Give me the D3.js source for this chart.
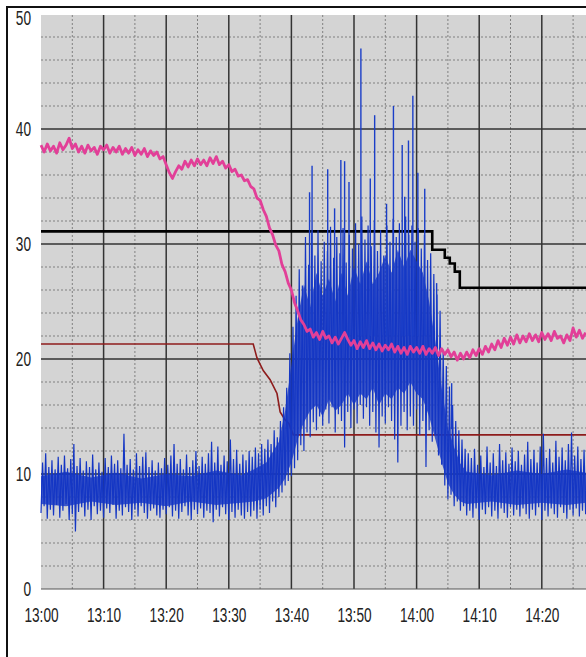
<html>
<head>
<script src="https://d3js.org/d3.v7.min.js"></script>
<style>
  body { margin: 0; background: #fff; }
  svg { display: block; }
</style>
</head>
<body>
<svg id="chart" width="586" height="657"></svg>
<script>
// values; sample step is 30 s starting 13:00
const sampleStep = 0.5; // minutes
const yTicks = [0, 10, 20, 30, 40, 50];

const blueHi = [
  11.0, 11.8, 10.6, 11.2, 10.4, 11.5, 10.8, 11.6, 10.5, 11.3,
  12.6, 10.7, 11.4, 10.3, 11.1, 10.6, 11.7, 10.4, 11.0, 10.2,
  11.4, 10.6, 11.6, 10.9, 11.2, 10.5, 13.5, 10.8, 11.3, 10.4,
  11.8, 10.7, 11.5, 11.9, 10.6, 11.2, 10.3, 11.0, 10.5, 11.4,
  10.8, 11.6, 12.6, 10.9, 11.3, 10.4, 11.7, 10.6, 11.2, 12.0,
  10.7, 11.5, 10.9, 11.8, 12.8, 11.0, 12.4, 10.8, 11.6, 11.1,
  13.0, 11.3, 12.1, 10.9, 11.7, 11.2, 12.0,
  11.5, 12.3, 11.8, 12.6, 12.2, 13.0, 12.6, 13.8, 13.2, 14.6, 15.8, 17.5, 20.5, 22.8,
  25.5, 27.8, 26.4, 30.6, 28.2, 31.0, 29.0, 31.2, 28.5, 30.2,
  29.4, 31.5, 28.8, 30.6, 29.2, 31.4, 28.4, 30.8, 29.6, 31.8,
  30.0, 32.4, 30.4, 31.6, 29.8, 32.0, 29.4, 31.2, 29.0, 31.6,
  30.2, 32.2, 30.6, 31.8, 30.0, 32.4, 30.8, 31.6, 30.2, 31.4,
  29.6, 30.8, 28.6, 29.2,
  27.4, 25.6, 24.2, 20.8, 19.4, 17.6, 16.0, 14.6, 13.8, 13.0, 12.2, 11.8,
  11.4, 12.2, 10.8, 11.6, 10.6, 12.4, 11.0, 11.8, 10.7, 12.6,
  11.2, 11.9, 10.9, 12.3, 11.1, 12.0, 10.8, 11.7, 12.8, 11.3,
  12.1, 11.0, 12.4, 13.5, 11.4, 12.2, 11.0, 12.9, 11.5, 12.3,
  11.2, 12.6, 13.6, 11.6, 12.4, 11.3, 12.1, 11.7
];

const blueLo = [
  6.6, 7.2, 6.1, 6.9, 6.4, 7.3, 6.2, 6.8, 7.4, 6.0,
  6.5, 5.0, 6.7, 7.1, 6.3, 6.9, 6.0, 7.2, 6.5, 6.8,
  6.2, 7.0, 6.6, 7.3, 6.1, 6.8, 6.4, 7.1, 6.7, 6.0,
  6.9, 6.3, 7.2, 6.6, 6.1, 6.8, 7.0, 6.4, 6.2, 6.9,
  6.5, 7.1, 6.3, 6.8, 6.1, 6.7, 7.2, 6.4, 6.0, 6.9,
  6.5, 7.0, 6.2, 6.8, 6.6, 5.8, 6.9, 6.3, 7.1, 6.5,
  6.0, 6.7, 6.2, 6.9, 6.4, 6.1, 6.7,
  6.3, 6.8, 6.1, 6.9, 6.4, 7.2, 6.6, 7.6, 7.1, 8.0, 8.4, 9.0, 9.4, 9.8,
  10.5, 11.2, 12.5, 12.0, 13.6, 13.2, 14.5, 13.8, 15.0, 14.2,
  15.6, 14.4, 15.8, 13.6, 15.2, 14.6, 12.3, 15.4, 14.0, 15.6,
  14.4, 16.0, 14.8, 15.8, 14.2, 15.4, 13.6, 12.3, 15.0, 14.4,
  15.8, 14.6, 13.0, 11.0, 14.2, 15.4, 13.8, 15.0, 14.2, 15.6,
  13.4, 14.6, 10.6, 13.8,
  12.8, 13.4, 11.6, 10.8, 9.0, 7.8, 8.2, 7.2, 7.6, 6.8, 7.2, 6.4,
  6.8, 6.2, 7.0, 6.0, 6.9, 6.5, 7.1, 6.3, 6.8, 6.1,
  7.0, 6.6, 6.2, 7.1, 6.4, 6.9, 6.3, 7.0, 6.5, 6.1,
  6.9, 6.4, 7.1, 6.0, 6.8, 6.3, 7.0, 6.5, 6.2, 7.1,
  6.6, 6.1, 6.9, 6.4, 7.0, 6.3, 6.8, 6.5
];

// densely inked core of the blue trace: [minutes, low, high]
const blueCore = [
  [0, 7.4, 9.8], [4, 7.2, 10.2], [8, 7.6, 9.7], [12, 7.3, 10.1], [16, 7.5, 9.6],
  [20, 7.2, 10.0], [24, 7.6, 9.8], [28, 7.3, 10.3], [32, 7.5, 9.9], [34, 7.6, 10.4],
  [36, 7.9, 11.0], [38, 8.8, 12.8], [39, 9.6, 15.5], [40, 11.0, 19.5],
  [41, 13.0, 23.5], [42, 14.5, 26.5], [43, 15.5, 24.5], [44, 16.0, 27.5],
  [45, 15.0, 25.5], [46, 16.5, 27.0], [47, 15.5, 25.0], [48, 16.0, 27.5],
  [49, 17.0, 25.5], [50, 16.0, 28.0], [51, 17.0, 26.5], [52, 16.5, 28.5],
  [53, 17.5, 26.5], [54, 16.0, 27.5], [55, 17.0, 29.0], [56, 16.5, 27.5],
  [57, 17.5, 29.5], [58, 17.0, 28.0], [59, 18.0, 29.5], [60, 17.0, 28.5],
  [61, 16.5, 27.5], [62, 15.0, 25.0], [63, 13.0, 21.5], [64, 11.0, 17.5],
  [65, 9.2, 14.0], [66, 8.2, 12.3], [67, 7.6, 10.9], [68, 7.4, 10.2],
  [72, 7.6, 9.9], [76, 7.3, 10.3], [80, 7.5, 10.0], [84, 7.3, 10.4], [87.1, 7.5, 10.1]
];

// tall single spikes of the blue trace: [minutes after 13:00, value]
const blueSpikes = [
  [42.9, 34.5], [43.3, 36.8], [45.8, 36.5], [46.9, 33.1], [47.9, 37.3],
  [48.5, 37.2], [49.2, 35.4], [51.1, 47.0], [52.6, 35.7], [53.3, 41.2],
  [55.2, 33.5], [56.3, 42.0], [57.7, 38.6], [58.1, 34.1], [58.7, 39.0],
  [59.4, 42.9], [60.2, 36.2], [61.3, 34.8], [63.2, 26.6], [65.6, 17.9]
];

const pink = [
  38.6, 38.0, 38.7, 38.1, 38.5, 37.9, 38.8, 38.2, 38.6, 39.2,
  38.3, 38.7, 38.0, 38.5, 37.9, 38.6, 38.1, 38.4, 37.8, 38.5,
  38.2, 38.6, 37.9, 38.4, 38.0, 38.5, 37.8, 38.3, 37.9, 38.4,
  37.7, 38.2, 37.8, 38.3, 37.6, 38.1, 37.7, 38.0, 37.4, 37.6,
  36.9, 36.2, 35.7, 36.3, 36.8, 36.5, 37.2, 36.7, 37.3, 36.8,
  37.4, 36.9, 37.3, 36.8, 37.5, 37.0, 37.6, 36.9, 37.2, 36.6,
  36.9, 36.3, 36.5, 35.9, 36.0, 35.5, 35.6, 35.0, 34.8, 34.0,
  33.8, 33.0, 32.4, 31.4, 30.8, 29.9, 29.4, 28.2, 27.6, 26.6,
  26.0, 24.9, 24.2, 23.4, 23.0, 22.4, 22.6, 21.9, 22.3, 21.7,
  22.4, 21.8, 22.0, 21.4, 21.9, 21.3, 21.8, 22.3, 21.7, 21.2,
  21.6, 20.9, 21.5, 21.0, 21.6, 20.9, 21.4, 20.8, 21.3, 20.7,
  21.2, 20.8, 21.3, 20.6, 21.1, 20.5, 21.0, 20.4, 21.1, 20.6,
  21.0, 20.5, 21.1, 20.4, 20.9, 20.5, 21.0, 20.3, 20.9, 20.4,
  20.8, 20.2, 20.6, 19.9, 20.5, 20.0, 20.6, 20.1, 20.8, 20.3,
  20.9, 20.4, 21.1, 20.6, 21.3, 20.8, 21.6, 21.0, 21.8, 21.2,
  21.9, 21.3, 22.1, 21.4, 22.0, 21.5, 22.2, 21.6, 22.1, 21.5,
  22.3, 21.7, 22.2, 21.6, 22.4, 21.8, 22.0, 21.4, 22.1, 21.6,
  22.7, 21.9, 22.5, 21.8, 22.3
];

// step traces: [minutes after 13:00, value]
const blackSteps = [
  [0, 31.1], [62.5, 31.1], [62.5, 29.5], [64.5, 29.5], [64.5, 28.8],
  [65.3, 28.8], [65.3, 28.3], [66.1, 28.3], [66.1, 27.6], [66.9, 27.6],
  [66.9, 26.2], [87.1, 26.2]
];

const redSteps = [
  [0, 21.3], [33.9, 21.3], [34.5, 20.1], [35.5, 19.0], [36.6, 18.2],
  [37.7, 17.0], [38.2, 15.4], [39.0, 14.7], [39.6, 14.4], [40.3, 13.4],
  [87.1, 13.4]
];

const svg = d3.select("#chart");
const t0 = new Date(2000, 0, 1, 13, 0);
const toDate = m => new Date(t0.getTime() + m * 60000);

const x = d3.scaleTime().domain([t0, toDate(87.06)]).range([41, 586]);
const y = d3.scaleLinear().domain([0, 50]).range([589, 14]);

// outer frame of the scan
svg.append("line").attr("x1", 7).attr("x2", 7).attr("y1", 6).attr("y2", 657)
  .attr("stroke", "#111").attr("stroke-width", 2);
svg.append("line").attr("x1", 6).attr("x2", 586).attr("y1", 7).attr("y2", 7)
  .attr("stroke", "#111").attr("stroke-width", 2);

// grey chart paper
svg.append("rect").attr("x", 41).attr("y", 15).attr("width", 545).attr("height", 574)
  .attr("fill", "#d4d4d4");

const grid = svg.append("g");
// minor dashed lines
const minorY = d3.range(2, 50, 2).filter(v => v % 10 !== 0);
grid.selectAll(".minorY").data(minorY).join("line")
  .attr("x1", 41).attr("x2", 586)
  .attr("y1", d => y(d)).attr("y2", d => y(d))
  .attr("stroke", "#808080").attr("stroke-width", 1).attr("stroke-dasharray", "2,2");
const minorX = d3.timeMinute.every(5).range(t0, toDate(87.06)).filter(d => d.getMinutes() % 10 === 5);
grid.selectAll(".minorX").data(minorX).join("line")
  .attr("x1", d => x(d)).attr("x2", d => x(d))
  .attr("y1", 15).attr("y2", 589)
  .attr("stroke", "#808080").attr("stroke-width", 1).attr("stroke-dasharray", "2,2");
// major lines
grid.selectAll(".majorY").data([10, 20, 30, 40]).join("line")
  .attr("x1", 41).attr("x2", 586)
  .attr("y1", d => y(d)).attr("y2", d => y(d))
  .attr("stroke", "#333").attr("stroke-width", 1.5);
const majorX = d3.timeMinute.every(10).range(toDate(1), toDate(87.06));
grid.selectAll(".majorX").data(majorX).join("line")
  .attr("x1", d => x(d)).attr("x2", d => x(d))
  .attr("y1", 15).attr("y2", 589)
  .attr("stroke", "#333").attr("stroke-width", 1.5);
grid.append("line").attr("x1", 41).attr("x2", 586).attr("y1", 589).attr("y2", 589)
  .attr("stroke", "#555").attr("stroke-width", 1);

const stepLine = d3.line().x(d => x(toDate(d[0]))).y(d => y(d[1]));

// dark red trace
svg.append("path").datum(redSteps).attr("d", stepLine)
  .attr("fill", "none").attr("stroke", "#8e1c1c").attr("stroke-width", 1.6);

// black trace
svg.append("path").datum(blackSteps).attr("d", stepLine)
  .attr("fill", "none").attr("stroke", "#000").attr("stroke-width", 2.6);

// blue trace: inked core, then a dense zigzag between low and high readings
const coreArea = d3.area()
  .x(d => x(toDate(d[0]))).y0(d => y(d[1])).y1(d => y(d[2]));
svg.append("path").datum(blueCore).attr("d", coreArea)
  .attr("fill", "#1436c4").attr("fill-opacity", 0.8);

const bluePts = [];
blueLo.forEach((lo, i) => {
  const m = i * sampleStep;
  bluePts.push([m, lo]);
  if (i < blueHi.length) bluePts.push([m + sampleStep / 2, blueHi[i]]);
});
svg.append("path").datum(bluePts).attr("d", stepLine)
  .attr("fill", "none").attr("stroke", "#1436c4").attr("stroke-width", 1.2);
svg.selectAll(".spike").data(blueSpikes).join("line")
  .attr("x1", d => x(toDate(d[0]))).attr("x2", d => x(toDate(d[0])))
  .attr("y1", d => y(Math.min(22, d[1] - 4))).attr("y2", d => y(d[1]))
  .attr("stroke", "#1a3ec8").attr("stroke-width", 1.4);

// magenta trace
const pinkLine = d3.line().x((d, i) => x(toDate(i * sampleStep))).y(d => y(d));
svg.append("path").datum(pink).attr("d", pinkLine)
  .attr("fill", "none").attr("stroke", "#e23f98").attr("stroke-width", 2.8)
  .attr("stroke-linejoin", "round");

// axes
const squeeze = function () {
  const w = this.getComputedTextLength();
  d3.select(this).attr("textLength", w * 0.7).attr("lengthAdjust", "spacingAndGlyphs");
};

const yAxis = svg.append("g").attr("transform", "translate(31,0)")
  .call(d3.axisLeft(y).tickValues(yTicks).tickSize(0).tickPadding(0));
yAxis.select(".domain").remove();
yAxis.selectAll("text")
  .style("font-family", "'Liberation Sans', Arial, sans-serif")
  .style("font-size", "19.5px").attr("fill", "#222")
  .attr("dy", d => d === 50 ? "0.55em" : "0.35em")
  .each(squeeze);

const xAxis = svg.append("g").attr("transform", "translate(0,589)")
  .call(d3.axisBottom(x).ticks(d3.timeMinute.every(10))
    .tickFormat(d3.timeFormat("%H:%M")).tickSize(0).tickPadding(19));
xAxis.select(".domain").remove();
xAxis.selectAll("text")
  .style("font-family", "'Liberation Sans', Arial, sans-serif")
  .style("font-size", "19.5px").attr("fill", "#222")
  .each(squeeze);
</script>
</body>
</html>
